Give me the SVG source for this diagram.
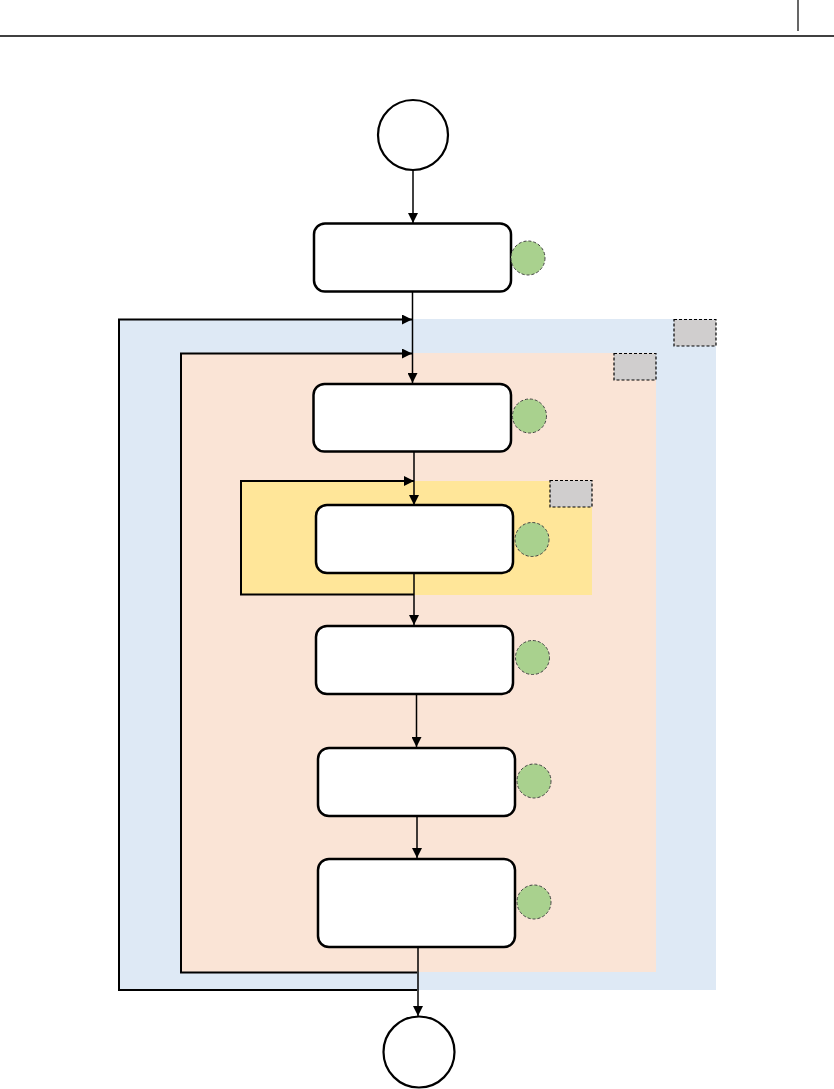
<svg xmlns="http://www.w3.org/2000/svg" width="834" height="1089" viewBox="0 0 834 1089">
<style>
.box{fill:#fff;stroke:#000;stroke-width:2.5}
.ev{fill:#fff;stroke:#000;stroke-width:2.2}
.dot{fill:#a9d18e;stroke:#444;stroke-width:1;stroke-dasharray:3 2}
.tag{fill:#d0cece;stroke:#000;stroke-width:1.2;stroke-dasharray:3 2}
.ln{fill:none;stroke:#000;stroke-width:1.5}
.lp{fill:none;stroke:#000;stroke-width:2}
</style>
<defs>
<marker id="ah" viewBox="0 0 10 10" refX="10" refY="5" markerWidth="10" markerHeight="10" markerUnits="userSpaceOnUse" orient="auto">
<path d="M0,0 L10,5 L0,10 z" fill="#000"/>
</marker>
</defs>
<g id="header">
<line x1="0" y1="36" x2="834" y2="36" stroke="#000" stroke-width="1.5"/>
<line x1="798" y1="0" x2="798" y2="31" stroke="#000" stroke-width="1.2"/>
</g>
<g id="regions">
<rect id="loop-outer" x="119" y="319" width="597" height="671" fill="#dee9f5"/>
<rect id="loop-mid" x="181" y="353" width="475" height="619" fill="#fae4d6"/>
<rect id="loop-inner" x="241" y="481" width="351" height="114" fill="#ffe699"/>
<rect class="tag" x="674" y="319.5" width="42" height="26.5"/>
<rect class="tag" x="614" y="353.5" width="42" height="26.5"/>
<rect class="tag" x="550" y="480.5" width="42" height="26.5"/>
</g>
<g id="connectors">
<line class="ln" x1="413" y1="170" x2="413" y2="223" marker-end="url(#ah)"/>
<line class="ln" x1="412.5" y1="292" x2="412.5" y2="383" marker-end="url(#ah)"/>
<polyline class="lp" points="417,990 119,990 119,319.5 412,319.5" marker-end="url(#ah)"/>
<polyline class="lp" points="417,972.5 181,972.5 181,353.5 412,353.5" marker-end="url(#ah)"/>
<line class="ln" x1="414" y1="452" x2="414" y2="505" marker-end="url(#ah)"/>
<polyline class="lp" points="414,594.5 241,594.5 241,481 414,481" marker-end="url(#ah)"/>
<line class="ln" x1="414" y1="573" x2="414" y2="625" marker-end="url(#ah)"/>
<line class="ln" x1="416.5" y1="694" x2="416.5" y2="747" marker-end="url(#ah)"/>
<line class="ln" x1="417" y1="816" x2="417" y2="858" marker-end="url(#ah)"/>
<line class="ln" x1="418" y1="947" x2="418" y2="1016" marker-end="url(#ah)"/>
</g>
<g id="start"><circle class="ev" cx="413" cy="135" r="35"/></g>
<g id="step1"><rect class="box" x="314" y="223.5" width="197" height="68" rx="11"/><circle class="dot" cx="528" cy="258" r="17"/></g>
<g id="step2"><rect class="box" x="313.5" y="384" width="197.5" height="67.5" rx="11"/><circle class="dot" cx="529.5" cy="416" r="17"/></g>
<g id="step3"><rect class="box" x="316" y="505" width="197" height="68" rx="11"/><circle class="dot" cx="532" cy="539.5" r="17"/></g>
<g id="step4"><rect class="box" x="316" y="626" width="197" height="68" rx="11"/><circle class="dot" cx="532.5" cy="657.5" r="17"/></g>
<g id="step5"><rect class="box" x="318" y="748" width="197" height="68" rx="11"/><circle class="dot" cx="534" cy="781" r="17"/></g>
<g id="step6"><rect class="box" x="318" y="859" width="197" height="88" rx="11"/><circle class="dot" cx="534" cy="902" r="17"/></g>
<g id="end"><circle class="ev" cx="419" cy="1052" r="35.5"/></g>
</svg>
